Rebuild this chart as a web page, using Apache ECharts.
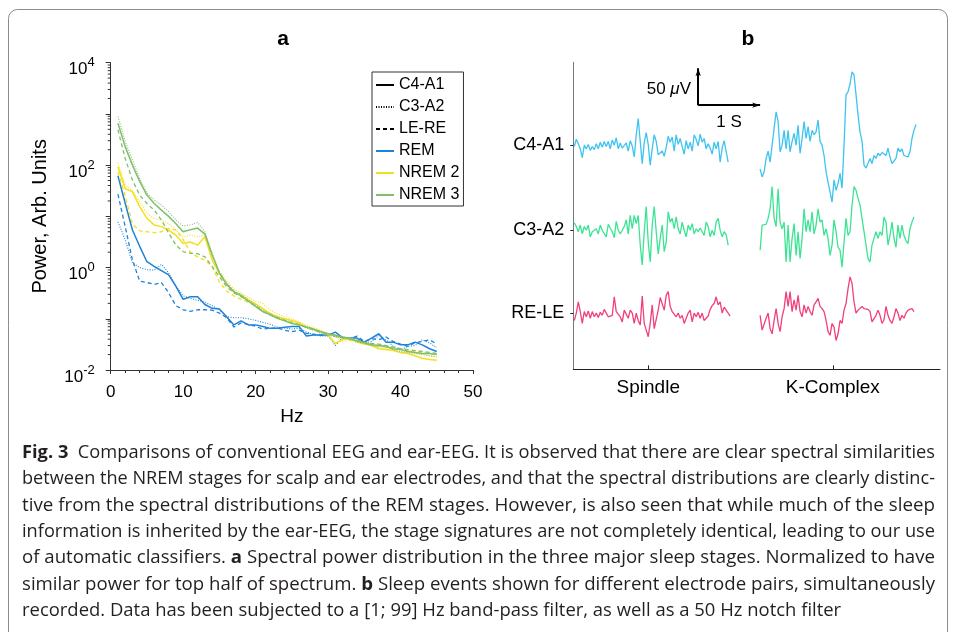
<!DOCTYPE html>
<html>
<head>
<meta charset="utf-8">
<title>Fig. 3</title>
<script src="https://cdn.jsdelivr.net/npm/echarts@6.0.0/dist/echarts.min.js"></script>
<style>
html,body{margin:0;padding:0;background:#fff;}
#chart{width:956px;height:632px;}
</style>
</head>
<body>
<div id="chart"></div>
<script>
// ---------------- Panel a: spectral power (Arb. Units) per 1 Hz bin ----------------
const freqHz = [1,2,3,4,5,6,7,8,9,10,11,12,13,14,15,16,17,18,19,20,21,22,23,24,25,26,27,28,29,30,31,32,33,34,35,36,37,38,39,40,41,42,43,44,45];

const remC4A1 = [62,18,5.4,2.6,1.3,1.05,0.87,0.72,0.43,0.24,0.27,0.27,0.19,0.16,0.155,0.11,0.076,0.091,0.076,0.076,0.071,0.065,0.065,0.068,0.071,0.071,0.046,0.048,0.048,0.048,0.055,0.043,0.042,0.042,0.035,0.042,0.051,0.035,0.035,0.031,0.031,0.035,0.031,0.026,0.023];
const remC3A2 = [7.8,3.5,1.23,1.0,0.91,0.89,1.15,0.79,0.44,0.28,0.25,0.23,0.21,0.18,0.15,0.11,0.105,0.105,0.1,0.093,0.085,0.078,0.069,0.066,0.063,0.066,0.055,0.049,0.046,0.046,0.030,0.043,0.039,0.039,0.034,0.036,0.047,0.039,0.029,0.025,0.029,0.030,0.039,0.034,0.027];
const remLERE = [27,6.3,1.41,0.54,0.51,0.47,0.51,0.32,0.18,0.15,0.14,0.15,0.15,0.148,0.129,0.105,0.069,0.083,0.078,0.071,0.063,0.066,0.066,0.06,0.056,0.06,0.052,0.05,0.048,0.047,0.046,0.043,0.041,0.046,0.036,0.041,0.039,0.044,0.036,0.032,0.029,0.034,0.036,0.039,0.032];

const nrem2C4A1 = [93,35,30,15.5,9.1,6.8,6.3,5.4,4.3,2.95,3.16,2.75,3.98,1.41,0.76,0.47,0.33,0.29,0.23,0.195,0.158,0.126,0.11,0.1,0.093,0.083,0.069,0.062,0.056,0.048,0.033,0.039,0.042,0.035,0.032,0.030,0.026,0.025,0.024,0.022,0.021,0.019,0.017,0.016,0.0155];
const nrem2C3A2 = [112,41,32,19.5,11.5,9.1,8.5,7.2,5.4,4.0,4.3,4.0,4.3,1.66,0.85,0.54,0.38,0.32,0.26,0.22,0.2,0.148,0.126,0.11,0.1,0.087,0.076,0.068,0.06,0.052,0.047,0.035,0.04,0.038,0.033,0.03,0.028,0.026,0.024,0.026,0.024,0.022,0.021,0.019,0.018];
const nrem2LERE = [74,25,7.1,5.2,5.0,4.8,5.0,5.8,5.4,3.5,2.0,1.6,1.4,1.05,0.52,0.35,0.28,0.24,0.21,0.18,0.15,0.126,0.11,0.1,0.089,0.079,0.071,0.063,0.056,0.05,0.045,0.04,0.038,0.036,0.034,0.032,0.03,0.028,0.026,0.025,0.024,0.023,0.022,0.021,0.02];

const nrem3C4A1 = [660,230,100,48,26,17.8,13.2,10,7.2,5.0,5.5,5.9,4.5,1.78,0.79,0.47,0.34,0.28,0.22,0.174,0.138,0.12,0.102,0.091,0.081,0.076,0.069,0.063,0.056,0.051,0.048,0.044,0.041,0.037,0.034,0.031,0.030,0.029,0.026,0.025,0.023,0.022,0.021,0.021,0.02];
const nrem3C3A2 = [890,290,126,55,28,21,16.6,12.3,8.5,6.5,6.8,7.6,5.0,1.9,0.83,0.5,0.35,0.3,0.24,0.19,0.145,0.126,0.107,0.095,0.085,0.076,0.066,0.06,0.052,0.048,0.045,0.042,0.04,0.035,0.033,0.03,0.029,0.028,0.025,0.023,0.022,0.021,0.02,0.019,0.018];
const nrem3LERE = [490,135,51,26,17.8,13.2,8.5,4.7,2.75,2.05,1.9,1.86,1.62,1.05,0.66,0.42,0.32,0.27,0.22,0.174,0.138,0.12,0.105,0.093,0.083,0.076,0.068,0.06,0.055,0.05,0.047,0.044,0.042,0.038,0.035,0.033,0.032,0.03,0.028,0.026,0.025,0.024,0.023,0.022,0.021];

const legendChannels = ['C4-A1','C3-A2','LE-RE'];
const legendStages = ['REM','NREM 2','NREM 3'];
const logMinorMultipliers = [2,3,4,5,6,7,8,9];
const logDecades = [-2,-1,0,1,2,3];

// ---------------- Panel b: sleep events (µV, sampled every 1/31 s) ----------------
const sampleRate = 31;
const spindleStart = 0.016;
const kComplexStart = 3.016;

const spindleC4A1 = [-2,8,2,-5,-17,0,-5,1,-7,-2,-6,2,-5,4,-3,5,-2,5,-5,7,0,10,-5,3,-4,-6,3,-8,6,-1,-16,14,36,5,-25,3,17,1,-27,-5,14,5,-13,-15,-8,-15,-3,12,4,11,-8,14,1,9,-2,-12,6,-5,4,-8,14,8,-1,15,4,9,-5,2,-4,-12,4,-5,5,-23,-4,6,8,-23];
const spindleC3A2 = [10,5,-2,7,-5,5,0,7,-9,-2,0,2,-5,7,0,2,-9,8,7,-2,-10,12,0,-5,0,5,14,-5,20,2,20,9,20,-20,-47,-2,32,-16,-43,7,32,-2,-32,-11,7,-29,-16,25,11,16,2,18,2,-5,11,0,-9,7,0,9,-5,2,-2,3,-2,-7,11,5,-9,0,-7,11,16,0,-9,-2,-6,-20];
const spindleRELE = [-10,0,15,2,-14,2,-5,3,-7,2,-5,0,-6,1,-3,5,0,-5,-7,-3,22,2,0,-5,-12,4,2,-7,4,0,-14,0,-10,-16,23,-14,-23,-32,-14,11,-21,-23,4,21,22,4,24,29,9,2,0,-5,0,-7,-3,-14,-7,0,4,-12,0,-5,1,-7,0,-10,-12,-4,5,10,13,22,11,15,0,8,4,0,-4];

const kComplexC4A1 = [-32,-43,-36,-18,-8,-23,0,1,45,32,-9,0,20,-5,20,-9,5,16,0,27,-11,9,32,9,25,5,20,14,18,34,5,0,-14,-36,-50,-63,-77,-47,-61,-52,-38,-58,0,68,72,83,99,95,68,41,18,5,-27,-31,-29,-18,-25,-14,-18,-11,-14,-10,-11,-14,-4,-16,-25,-27,-18,-4,-9,-5,-14,-14,-16,-9,9,20,28];
const kComplexC3A2 = [-27,7,9,8,16,29,59,16,5,56,11,2,11,-43,7,-43,-11,9,-34,-2,-38,-11,29,-2,14,-2,25,-5,7,29,11,14,-7,2,-11,-34,-20,14,-2,-23,-27,-50,-16,16,-7,-2,34,59,54,43,34,16,-2,-20,-38,-43,-20,-11,-2,-11,-2,-7,18,11,-20,-7,11,-11,-23,7,-11,7,-7,-14,-18,2,11,18];
const kComplexRELE = [-3,-23,-25,-7,0,-21,-28,-10,6,-14,-25,-5,6,29,9,29,2,18,4,24,2,-5,11,0,9,2,-3,11,15,20,9,6,2,-10,-25,-30,-14,-19,-37,-28,-10,-14,4,13,33,49,40,15,0,4,2,9,6,4,5,2,-12,-10,-3,4,-3,-14,-9,9,-3,-10,-14,-5,6,0,-10,-3,-7,0,4,2,6,2];

const traceChannels = ['C4-A1','C3-A2','RE-LE'];
const traceOffsets = [303, 188, 76];
const eventNames = ['Spindle','K-Complex'];
const eventCenters = [1.21, 4.19];
const scaleBarTime = 2.016, scaleBarLevel = 357, scaleBarAmp = 50, scaleBarDur = 1;

// ---------------- Caption ----------------
const captionLines = [
  [['Fig. 3', 1], ['  Comparisons of conventional EEG and ear-EEG. It is observed that there are clear spectral similarities', 0]],
  [['between the NREM stages for scalp and ear electrodes, and that the spectral distributions are clearly distinc-', 0]],
  [['tive from the spectral distributions of the REM stages. However, is also seen that while much of the sleep', 0]],
  [['information is inherited by the ear-EEG, the stage signatures are not completely identical, leading to our use', 0]],
  [['of automatic classifiers. ', 0], ['a', 1], [' Spectral power distribution in the three major sleep stages. Normalized to have', 0]],
  [['similar power for top half of spectrum. ', 0], ['b', 1], [' Sleep events shown for different electrode pairs, simultaneously', 0]],
  [['recorded. Data has been subjected to a [1; 99] Hz band-pass filter, as well as a 50 Hz notch filter', 0]]
];

// ---------------- Styling ----------------
const FONT = '"Liberation Sans", Arial, Helvetica, sans-serif';
const CAP_FONT = '"Open Sans", "Noto Sans", sans-serif';
const stageColor = {'REM':'#1f82d9','NREM 2':'#f5df1c','NREM 3':'#80bf6b'};
const channelLine = {
  'C4-A1': {type:'solid', width:1.5},
  'C3-A2': {type:[1,1.5], width:1.1},
  'LE-RE': {type:[4,3], width:1.3}
};
const traceColors = ['#3fc3ef','#3de394','#f0407d'];

const spectra = [
  ['REM','C4-A1',remC4A1],['REM','C3-A2',remC3A2],['REM','LE-RE',remLERE],
  ['NREM 2','C4-A1',nrem2C4A1],['NREM 2','C3-A2',nrem2C3A2],['NREM 2','LE-RE',nrem2LERE],
  ['NREM 3','C4-A1',nrem3C4A1],['NREM 3','C3-A2',nrem3C3A2],['NREM 3','LE-RE',nrem3LERE]
];

const series = [];
spectra.forEach(([stage, ch, vals]) => {
  series.push({
    type:'line', name: stage + ' / ' + ch, xAxisIndex:0, yAxisIndex:0,
    data: freqHz.map((f,i) => [f, vals[i]]),
    symbol:'none', silent:true, z:3,
    lineStyle:{color: stageColor[stage], type: channelLine[ch].type, width: channelLine[ch].width},
    itemStyle:{color: stageColor[stage]}
  });
});
// legend entries (no data)
legendChannels.forEach(ch => series.push({
  type:'line', name: ch, xAxisIndex:0, yAxisIndex:0, data:[], symbol:'none',
  lineStyle:{color:'#000', type: channelLine[ch].type, width:1}, itemStyle:{color:'#000', opacity:0}
}));
legendStages.forEach(st => series.push({
  type:'line', name: st, xAxisIndex:0, yAxisIndex:0, data:[], symbol:'none',
  lineStyle:{color: stageColor[st], type:'solid', width:1.3}, itemStyle:{color: stageColor[st], opacity:0}
}));
// log minor ticks on panel a y axis
const minorVals = [];
logDecades.forEach(e => logMinorMultipliers.forEach(m => minorVals.push([0, m * Math.pow(10, e)])));
series.push({
  type:'custom', xAxisIndex:0, yAxisIndex:0, data: minorVals, silent:true, clip:false,
  renderItem: (params, api) => {
    const p = api.coord([0, api.value(1)]);
    return {type:'line', shape:{x1:p[0]-3, y1:p[1], x2:p[0], y2:p[1]}, style:{stroke:'#333', lineWidth:1}};
  }
});

// Panel b traces
const traces = [
  [spindleStart, spindleC4A1, 0], [spindleStart, spindleC3A2, 1], [spindleStart, spindleRELE, 2],
  [kComplexStart, kComplexC4A1, 0], [kComplexStart, kComplexC3A2, 1], [kComplexStart, kComplexRELE, 2]
];
traces.forEach(([t0, vals, ci]) => {
  series.push({
    type:'line', name:'trace ' + traceChannels[ci], xAxisIndex:1, yAxisIndex:1, symbol:'none', silent:true,
    data: vals.map((v,i) => [t0 + i / sampleRate, traceOffsets[ci] + v]),
    lineStyle:{color: traceColors[ci], width:1.3}
  });
});
// scale bar
series.push({
  type:'line', name:'scalebar', xAxisIndex:1, yAxisIndex:1, symbol:'none', silent:true,
  data:[[scaleBarTime, scaleBarLevel]], lineStyle:{opacity:0},
  markLine:{
    silent:true, animation:false, symbol:['none','arrow'], symbolSize:[4,8],
    label:{show:false},
    lineStyle:{color:'#000', width:2, type:'solid'},
    emphasis:{disabled:true},
    data:[
      [{coord:[scaleBarTime, scaleBarLevel]}, {coord:[scaleBarTime, scaleBarLevel + scaleBarAmp]}],
      [{coord:[scaleBarTime, scaleBarLevel]}, {coord:[scaleBarTime + scaleBarDur, scaleBarLevel]}]
    ]
  }
});

// caption graphics with horizontal fit
const mctx = document.createElement('canvas').getContext('2d');
const CAP_SIZE = 18;
function segWidth(segs){
  let w = 0;
  segs.forEach(([t,b]) => { mctx.font = (b ? 'bold ' : '') + CAP_SIZE + 'px ' + CAP_FONT; w += mctx.measureText(t).width; });
  return w;
}
const capX = 22, capRight = 935, capTop = 453, capStep = 26.3;
const scales = captionLines.map(l => (capRight - capX) / segWidth(l));
const avgScale = scales.slice(0, 6).reduce((a,b) => a + b, 0) / 6;
const graphics = [];
captionLines.forEach((segs, i) => {
  const sx = i < captionLines.length - 1 ? scales[i] : avgScale;
  const txt = segs.map(([t,b]) => b ? '{b|' + t + '}' : t).join('');
  graphics.push({
    type:'text', x: capX, y: capTop + i * capStep, scaleX: sx, silent:true,
    style:{text: txt, fontSize: CAP_SIZE, fontFamily: CAP_FONT, fill:'#231f20', verticalAlign:'middle',
      rich:{b:{fontWeight:'bold', fontSize: CAP_SIZE, fontFamily: CAP_FONT, fill:'#231f20'}}}
  });
});
graphics.push(
  {type:'rect', shape:{x:8.5, y:9.5, width:939, height:640, r:9}, style:{fill:'none', stroke:'#8c8c8c', lineWidth:1}, silent:true},
  {type:'text', x:283, y:39, style:{text:'a', fontSize:21, fontWeight:'bold', fontFamily:FONT, fill:'#000', align:'center', verticalAlign:'middle'}},
  {type:'text', x:748, y:39, style:{text:'b', fontSize:21, fontWeight:'bold', fontFamily:FONT, fill:'#000', align:'center', verticalAlign:'middle'}},
  {type:'text', x:691, y:89, style:{text:'50 {m|μ}V', fontSize:17, fontFamily:FONT, fill:'#000', align:'right', verticalAlign:'middle',
      rich:{m:{fontStyle:'italic', fontSize:17, fontFamily:FONT, fill:'#000'}}}},
  {type:'text', x:729, y:122, style:{text:'1 S', fontSize:17, fontFamily:FONT, fill:'#000', align:'center', verticalAlign:'middle'}}
);

const chart = echarts.init(document.getElementById('chart'), null, {renderer:'canvas'});
chart.setOption({
  animation:false,
  backgroundColor:'#fff',
  textStyle:{fontFamily: FONT},
  grid:[
    {left:110.7, top:62.7, right:483, bottom:262, containLabel:false},
    {left:573.3, top:62.3, right:16, bottom:262.7, containLabel:false}
  ],
  legend:{
    data:['C4-A1','C3-A2','LE-RE','REM','NREM 2','NREM 3'],
    orient:'vertical', left:372, top:72, itemWidth:18, itemHeight:16, itemGap:6,
    padding:[5,4,3,3], borderColor:'#333', borderWidth:1, selectedMode:false,
    itemStyle:{opacity:0},
    textStyle:{fontSize:16, fontFamily:FONT, color:'#000', lineHeight:16}
  },
  xAxis:[
    {type:'value', gridIndex:0, min:0, max:50, interval:10,
     axisLine:{show:true, lineStyle:{color:'#333', width:1}},
     axisTick:{show:true, length:4, lineStyle:{color:'#333'}},
     minorTick:{show:true, splitNumber:5, length:3, lineStyle:{color:'#333'}},
     splitLine:{show:false},
     axisLabel:{fontSize:17, fontFamily:FONT, color:'#000', margin:14},
     name:'Hz', nameLocation:'middle', nameGap:37, nameTextStyle:{fontSize:19, fontFamily:FONT, color:'#000'}},
    {type:'value', gridIndex:1, min:0, max:5.92,
     axisLine:{show:true, lineStyle:{color:'#222', width:1}},
     axisTick:{show:true, inside:true, length:4, customValues: eventCenters, lineStyle:{color:'#222'}},
     splitLine:{show:false},
     axisLabel:{customValues: eventCenters, fontSize:19, fontFamily:FONT, color:'#000', margin:9,
       formatter: v => eventNames[eventCenters.indexOf(v)] || ''}}
  ],
  yAxis:[
    {type:'log', gridIndex:0, logBase:10, min:0.01, max:10000,
     axisLine:{show:true, lineStyle:{color:'#333', width:1}},
     axisTick:{show:true, length:5, lineStyle:{color:'#333'}},
     splitLine:{show:false},
     axisLabel:{fontFamily:FONT, color:'#000', margin:16, padding:[9,0,0,0],
       formatter: v => { const e = Math.round(Math.log10(v)); return (e % 2 === 0) ? '{b|10}{s|' + e + '}' : ''; },
       rich:{
         b:{fontSize:17, fontFamily:FONT, color:'#000', verticalAlign:'bottom', lineHeight:22},
         s:{fontSize:13, fontFamily:FONT, color:'#000', verticalAlign:'top', lineHeight:22}
       }},
     name:'Power, Arb. Units', nameLocation:'middle', nameGap:60, nameRotate:90,
     nameTextStyle:{fontSize:20, fontFamily:FONT, color:'#000'}},
    {type:'value', gridIndex:1, min:0, max:415,
     axisLine:{show:true, lineStyle:{color:'#777', width:1}},
     axisTick:{show:true, length:3, customValues: traceOffsets, lineStyle:{color:'#222'}},
     splitLine:{show:false},
     axisLabel:{customValues: traceOffsets, fontSize:18, fontFamily:FONT, color:'#000', margin:9,
       formatter: v => traceChannels[traceOffsets.indexOf(v)] || ''}}
  ],
  series: series,
  graphic: graphics
});
</script>
</body>
</html>
